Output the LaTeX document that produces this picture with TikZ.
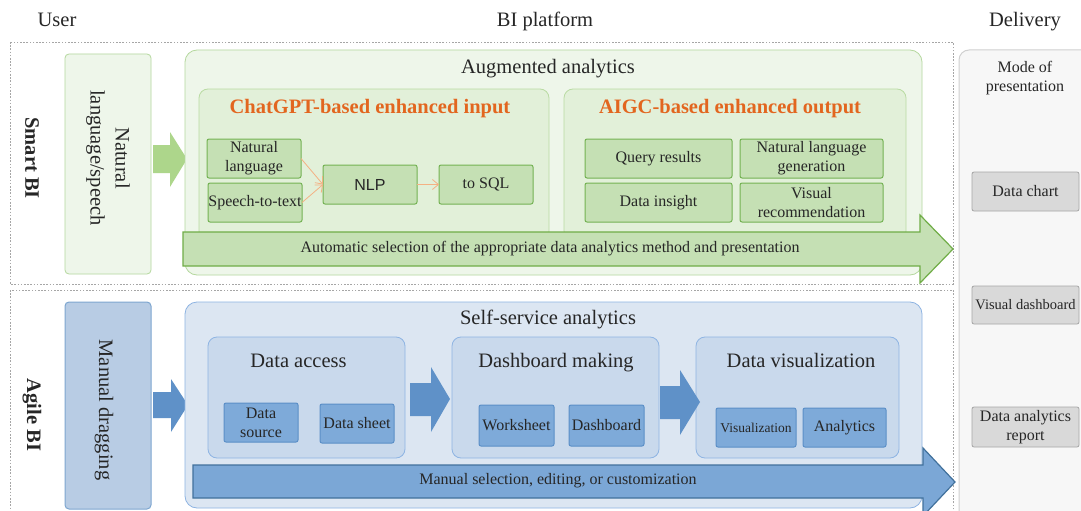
\documentclass[tikz,border=0pt]{standalone}
\usepackage{fontspec}
\setmainfont{Liberation Serif}
\newfontfamily\arialfont{Liberation Sans}
\usetikzlibrary{arrows.meta}
\definecolor{dashgray}{HTML}{A6A6A6}
\definecolor{gOutF}{HTML}{EEF6EA}
\definecolor{gOutD}{HTML}{B5D89E}
\definecolor{gMidF}{HTML}{E2F0D9}
\definecolor{gMidD}{HTML}{B9DBA3}
\definecolor{gSmF}{HTML}{C5E0B4}
\definecolor{gSmD}{HTML}{74B253}
\definecolor{gArrF}{HTML}{C5E0B4}
\definecolor{gArrD}{HTML}{70AD47}
\definecolor{gBlk}{HTML}{ADD68B}
\definecolor{orangeT}{HTML}{E2661F}
\definecolor{orangeA}{HTML}{F4B183}
\definecolor{bManF}{HTML}{B8CCE4}
\definecolor{bManD}{HTML}{7EA6D0}
\definecolor{bOutF}{HTML}{DCE6F2}
\definecolor{bOutD}{HTML}{8DB3E2}
\definecolor{bMidF}{HTML}{C9D9EC}
\definecolor{bMidD}{HTML}{8EB4E3}
\definecolor{bSmF}{HTML}{7EAAD9}
\definecolor{bSmD}{HTML}{5B8FC7}
\definecolor{bArrF}{HTML}{7BA7D6}
\definecolor{bArrD}{HTML}{41719C}
\definecolor{bBlk}{HTML}{5F91C8}
\definecolor{grayColF}{HTML}{F7F7F7}
\definecolor{grayColD}{HTML}{D0D0D0}
\definecolor{grayBoxF}{HTML}{D9D9D9}
\definecolor{grayBoxD}{HTML}{A6A6A6}
\begin{document}
\begin{tikzpicture}[x=1pt,y=-1pt,
  every node/.style={inner sep=1pt, outer sep=0pt, text=black!85},
  big/.style={font=\fontsize{20.5}{25}\selectfont},
  bigline/.style={big, text height=14pt, text depth=4.5pt},
  small/.style={font=\fontsize{16}{19}\selectfont, align=center},
  dashbox/.style={draw=dashgray, line width=0.8pt, dash pattern=on 1.6pt off 1.6pt},
  gout/.style={draw=gOutD, fill=gOutF, line width=0.8pt, rounded corners=12pt},
  gmid/.style={draw=gMidD, fill=gMidF, line width=0.8pt, rounded corners=9pt},
  gsmall/.style={draw=gSmD, fill=gSmF, line width=1pt, rounded corners=2pt, small},
  bout/.style={draw=bOutD, fill=bOutF, line width=0.8pt, rounded corners=12pt},
  bmid/.style={draw=bMidD, fill=bMidF, line width=0.8pt, rounded corners=9pt},
  bsmall/.style={draw=bSmD, fill=bSmF, line width=1pt, rounded corners=2pt, small},
  graybox/.style={draw=grayBoxD, fill=grayBoxF, line width=0.8pt, rounded corners=2pt, small},
  otitle/.style={font=\bfseries\fontsize{20.5}{25}\selectfont, text=orangeT, text height=14pt, text depth=4.5pt},
  oarrow/.style={draw=orangeA, line width=0.8pt, -{Straight Barb[length=6pt,width=10pt]}},
]
\useasboundingbox (0,0) rectangle (1081,511);
\clip (0,0) rectangle (1081,511);
\fill[white] (0,0) rectangle (1081,511);

% column headers
\node[bigline] (huser) at (57,22) {User};
\node[bigline] (hbi) at (545,22) {BI platform};
\node[bigline] (hdel) at (1025,22) {Delivery};

% dashed frames
\draw[dashbox] (10,42) rectangle (953,284);
\draw[dashbox] (10,290) rectangle (953,525);

% delivery column
\draw[draw=grayColD, fill=grayColF, line width=1pt, rounded corners=10pt] (959,50) rectangle (1100,530);
\node[small] (mode) at (1025,78) {Mode of\\presentation};
\node[graybox, minimum width=107pt, minimum height=39pt] (dchart) at (1025.5,191.5) {Data chart};
\node[graybox, minimum width=107pt, minimum height=38pt, font=\fontsize{14.5}{17}\selectfont] (vdash) at (1025.5,305) {Visual dashboard};
\node[graybox, minimum width=107pt, minimum height=40pt] (darep) at (1025.5,427) {Data analytics\\report};

% ===== Smart BI =====
\node[big, font=\bfseries\fontsize{20.5}{25}\selectfont, rotate=-90] (smart) at (32,158) {Smart BI};
\node[draw=gOutD, fill=gOutF, line width=0.8pt, rounded corners=4pt, minimum width=86pt, minimum height=220pt] (nlsbox) at (108,164) {};
\node[big, rotate=-90, align=center] (nlstext) at (108,158) {Natural\\language/speech};
\fill[gBlk] (153,145) -- (170,145) -- (170,132) -- (187,159) -- (170,187) -- (170,173) -- (153,173) -- cycle;

\node[gout, minimum width=737pt, minimum height=225pt] (aug) at (553.5,162.5) {};
\node[bigline] (augt) at (548,69) {Augmented analytics};
\node[gmid, minimum width=350pt, minimum height=151pt] (chat) at (374,164.5) {};
\node[otitle] (chatt) at (370,109) {ChatGPT-based enhanced input};
\node[gmid, minimum width=342pt, minimum height=151pt] (aigc) at (735,164.5) {};
\node[otitle] (aigct) at (730,109) {AIGC-based enhanced output};

\node[gsmall, minimum width=94pt, minimum height=39pt] (nl) at (254,158.5) {Natural\\language};
\node[gsmall, minimum width=94pt, minimum height=39pt, inner sep=0pt] (stt) at (255,202.5) {Speech-to-text};
\node[gsmall, minimum width=94pt, minimum height=39pt, font=\arialfont\fontsize{16}{19}\selectfont] (nlp) at (370,184.5) {NLP};
\node[gsmall, minimum width=94pt, minimum height=39pt] (sql) at (486,184.5) {to SQL};
\draw[oarrow] (nl.east) -- (nlp.west);
\draw[oarrow] (stt.east) -- (nlp.west);
\draw[oarrow] (nlp.east) -- (sql.west);

\node[gsmall, minimum width=147pt, minimum height=39pt] (qr) at (658.5,158.5) {Query results};
\node[gsmall, minimum width=147pt, minimum height=39pt] (di) at (658.5,202.5) {Data insight};
\node[gsmall, minimum width=143pt, minimum height=39pt] (nlg) at (811.5,158.5) {Natural language\\generation};
\node[gsmall, minimum width=143pt, minimum height=39pt] (vr) at (811.5,202.5) {Visual\\recommendation};

\draw[draw=gArrD, fill=gArrF, line width=1.2pt, line join=miter] (183,232) -- (920,232) -- (920,215) -- (953,249) -- (920,283) -- (920,266) -- (183,266) -- cycle;
\node[small] (autot) at (550,249) {Automatic selection of the appropriate data analytics method and presentation};

% ===== Agile BI =====
\node[big, font=\bfseries\fontsize{20.5}{25}\selectfont, rotate=-90] (agile) at (32,415) {Agile BI};
\node[draw=bManD, fill=bManF, line width=1pt, rounded corners=4pt, minimum width=86pt, minimum height=207pt] (manbox) at (108,405.5) {};
\node[big, rotate=-90] (mantext) at (104,410) {Manual dragging};
\fill[bBlk] (153,392) -- (171,392) -- (171,379) -- (188,405) -- (171,432) -- (171,418) -- (153,418) -- cycle;

\node[bout, minimum width=737pt, minimum height=206pt] (self) at (553.5,405) {};
\node[bigline] (selft) at (548,320) {Self-service analytics};

\node[bmid, minimum width=197pt, minimum height=121pt] (dacc) at (306.5,397.5) {};
\node[bigline] (dacct) at (298.5,363) {Data access};
\node[bmid, minimum width=207pt, minimum height=121pt] (dmak) at (555.5,397.5) {};
\node[bigline] (dmakt) at (556,363) {Dashboard making};
\node[bmid, minimum width=203pt, minimum height=121pt] (dvis) at (797.5,397.5) {};
\node[bigline] (dvist) at (801,363) {Data visualization};

\node[bsmall, minimum width=74pt, minimum height=39pt] (dsrc) at (261,422.5) {Data\\source};
\node[bsmall, minimum width=74pt, minimum height=39pt] (dsht) at (357,423.5) {Data sheet};
\node[bsmall, minimum width=75pt, minimum height=41pt] (wks) at (516.5,425.5) {Worksheet};
\node[bsmall, minimum width=75pt, minimum height=41pt] (dsb) at (606.5,425.5) {Dashboard};
\node[bsmall, minimum width=80pt, minimum height=39pt, font=\fontsize{13.5}{16}\selectfont] (vizb) at (756,427.5) {Visualization};
\node[bsmall, minimum width=83pt, minimum height=39pt] (anb) at (844.5,427.5) {Analytics};

\fill[bBlk] (410,383) -- (431,383) -- (431,367) -- (450,399) -- (431,432) -- (431,416) -- (410,416) -- cycle;
\fill[bBlk] (660,386) -- (680,386) -- (680,370) -- (700,402) -- (680,435) -- (680,419) -- (660,419) -- cycle;

\draw[draw=bArrD, fill=bArrF, line width=1.2pt, line join=miter] (193,465) -- (923,465) -- (923,448) -- (955,482) -- (923,516) -- (923,498) -- (193,498) -- cycle;
\node[small] (mant) at (558,481) {Manual selection, editing, or customization};
\end{tikzpicture}
\end{document}
